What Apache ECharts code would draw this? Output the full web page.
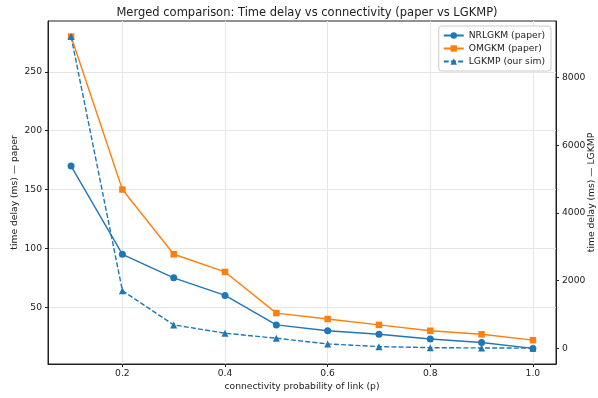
<!DOCTYPE html>
<html>
<head>
<meta charset="utf-8">
<script src="https://cdn.jsdelivr.net/npm/echarts@6/dist/echarts.min.js"></script>
<style>html,body{margin:0;padding:0;background:#fff}#c{width:598px;height:398px}</style>
</head>
<body>
<div id="c"></div>
<script>
const pValues = [0.1, 0.2, 0.3, 0.4, 0.5, 0.6, 0.7, 0.8, 0.9, 1.0];
const nrlgkmPaper = [170, 95, 75, 60, 35, 30, 27, 23, 20, 15];
const omgkmPaper = [280, 150, 95, 80, 45, 40, 35, 30, 27, 22];
const lgkmpSim = [9210, 1700, 690, 445, 296, 128, 48, 18, 9, 3];
const xTicks = [0.2, 0.4, 0.6, 0.8, 1.0];
const leftTicks = [50, 100, 150, 200, 250];
const rightTicks = [0, 2000, 4000, 6000, 8000];

const C1 = '#1f77b4', C2 = '#ff7f0e';
const FONT = 'DejaVu Sans';
const INK = '#222';
const pairs = (xs, ys) => xs.map((x, i) => [x, ys[i]]);

const chart = echarts.init(document.getElementById('c'), null, {renderer: 'canvas'});
chart.setOption({
  animation: false,
  backgroundColor: '#fff',
  textStyle: {fontFamily: FONT},
  title: {
    text: 'Merged comparison: Time delay vs connectivity (paper vs LGKMP)',
    left: 302, textAlign: 'center', top: 2,
    textStyle: {fontFamily: FONT, fontSize: 11.5, fontWeight: 'normal', color: INK}
  },
  legend: {
    orient: 'vertical', right: 47, top: 26,
    itemWidth: 20, itemHeight: 8, itemGap: 4,
    padding: [5, 6, 5, 4],
    backgroundColor: 'rgba(255,255,255,0.8)',
    borderColor: '#cccccc', borderWidth: 1, borderRadius: 3,
    textStyle: {fontFamily: FONT, fontSize: 9.2, color: INK},
    data: ['NRLGKM (paper)', 'OMGKM (paper)', 'LGKMP (our sim)']
  },
  grid: {left: 48, right: 42, top: 21, bottom: 34, outerBoundsMode: 'none', containLabel: false,
    show: true, borderColor: INK, borderWidth: 1, backgroundColor: 'transparent'},
  xAxis: {
    type: 'value', min: 0.055, max: 1.045,
    name: 'connectivity probability of link (p)', nameLocation: 'middle', nameGap: 18, nameMoveOverlap: false,
    nameTextStyle: {fontFamily: FONT, fontSize: 9.2, color: INK},
    axisLine: {show: true, onZero: false, lineStyle: {color: INK, width: 1}},
    axisTick: {show: true, length: 3, customValues: xTicks, lineStyle: {color: INK}},
    axisLabel: {customValues: xTicks, margin: 5, fontFamily: FONT, fontSize: 9.2, color: INK, formatter: v => v.toFixed(1)},
    splitLine: {show: true, lineStyle: {color: '#e6e6e6', width: 1}}
  },
  yAxis: [{
    type: 'value', min: 1.75, max: 293.25, position: 'left',
    name: 'time delay (ms) — paper', nameLocation: 'middle', nameGap: 29, nameRotate: 90, nameMoveOverlap: false,
    nameTextStyle: {fontFamily: FONT, fontSize: 9.2, color: INK},
    axisLine: {show: true, onZero: false, lineStyle: {color: INK, width: 1}},
    axisTick: {show: true, length: 3, customValues: leftTicks, lineStyle: {color: INK}},
    axisLabel: {customValues: leftTicks, margin: 6, fontFamily: FONT, fontSize: 9.2, color: INK, formatter: v => String(v)},
    splitLine: {show: true, lineStyle: {color: '#e6e6e6', width: 1}}
  }, {
    type: 'value', min: -465, max: 9668, position: 'right',
    name: 'time delay (ms) — LGKMP', nameLocation: 'middle', nameGap: 31, nameRotate: 90, nameMoveOverlap: false,
    nameTextStyle: {fontFamily: FONT, fontSize: 9.2, color: INK},
    axisLine: {show: true, onZero: false, lineStyle: {color: INK, width: 1}},
    axisTick: {show: true, length: 3, customValues: rightTicks, lineStyle: {color: INK}},
    axisLabel: {customValues: rightTicks, margin: 6, fontFamily: FONT, fontSize: 9.2, color: INK, formatter: v => String(v)},
    splitLine: {show: false}
  }],
  series: [{
    name: 'NRLGKM (paper)', type: 'line', yAxisIndex: 0,
    data: pairs(pValues, nrlgkmPaper),
    symbol: 'circle', symbolSize: 7,
    lineStyle: {color: C1, width: 1.4}, itemStyle: {color: C1}
  }, {
    name: 'OMGKM (paper)', type: 'line', yAxisIndex: 0,
    data: pairs(pValues, omgkmPaper),
    symbol: 'rect', symbolSize: 6.5,
    lineStyle: {color: C2, width: 1.4}, itemStyle: {color: C2}
  }, {
    name: 'LGKMP (our sim)', type: 'line', yAxisIndex: 1,
    data: pairs(pValues, lgkmpSim),
    symbol: 'triangle', symbolSize: 7,
    lineStyle: {color: C1, width: 1.4, type: [5, 2.2]}, itemStyle: {color: C1}
  }]
});
</script>
</body>
</html>
